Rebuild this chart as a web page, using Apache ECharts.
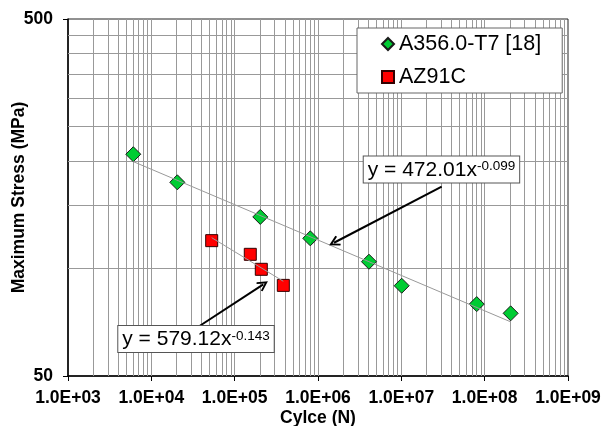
<!DOCTYPE html>
<html lang="en">
<head>
<meta charset="UTF-8">
<title>S-N curve</title>
<script src="https://cdn.jsdelivr.net/npm/echarts@6/dist/echarts.min.js"></script>
</head>
<body style="margin:0">
<div id="main" style="width:602px;height:426px;"></div>
<script>
// A356.0-T7 [18]
var a356Cycles = [6075, 20500, 203000, 808000, 4090000, 10100000, 80300000, 205000000];
var a356Stress = [209, 174.4, 139.5, 121.5, 104.5, 89.5, 79.5, 74.9];
// AZ91C
var az91Cycles = [53000, 154000, 208800, 383500];
var az91Stress = [119.7, 109.6, 99.5, 89.7];
// trend line end points
var a356TrendCycles = [6075, 205000000];
var a356TrendStress = [199.3, 70.9];
var az91TrendCycles = [53000, 383500];
var az91TrendStress = [122.0, 92.1];

var xTicks = [1e3, 1e4, 1e5, 1e6, 1e7, 1e8, 1e9];
var yTicks = [50, 500];
var yGrid = [100, 150, 200, 250, 300, 350, 400, 450];
var decadeSteps = [1, 2, 3, 4, 5, 6, 7, 8, 9];

function pairs(xs, ys) {
	var out = [];
	for (var i = 0; i < xs.length; i++) out.push([xs[i], ys[i]]);
	return out;
}

var gridLines = [];
for (var d = 0; d < xTicks.length - 1; d++) {
	for (var k = 0; k < decadeSteps.length; k++) {
		if (d == 0 && k == 0) continue;
		gridLines.push({ xAxis: xTicks[d] * decadeSteps[k] });
	}
}
for (var j = 0; j < yGrid.length; j++) gridLines.push({ yAxis: yGrid[j] });

var font = "'Liberation Sans', Arial, sans-serif";
var arrowHead = 'path://M5,0 L10,9 L8.6,10 L5,3.6 L1.4,10 L0,9 Z';

var myChart = echarts.init(document.getElementById('main'));
var option = {
	animation : false,
	grid : {
		left : 68, right : 34, top : 19, bottom : 50,
		outerBoundsMode : 'none',
		containLabel : false,
		show : true, borderColor : '#222', borderWidth : 1
	},
	legend : {
		orient : 'vertical',
		left : 357, top : 28,
		z : 10,
		padding : [5, 21, 5, 24],
		itemWidth : 12, itemHeight : 12, itemGap : 11,
		backgroundColor : '#fff',
		borderColor : '#666', borderWidth : 1,
		textStyle : { fontFamily : font, fontSize : 21.5, color : '#000' },
		data : ['A356.0-T7 [18]', 'AZ91C']
	},
	xAxis : {
		type : 'log', logBase : 10, min : 1e3, max : 1e9,
		name : 'Cylce (N)', nameLocation : 'middle', nameGap : 33,
		nameMoveOverlap : false,
		nameTextStyle : { fontFamily : font, fontWeight : 'bold', fontSize : 17.5, color : '#000' },
		axisLine : { lineStyle : { color : '#000', width : 1.5 } },
		axisTick : { customValues : xTicks, length : 5, lineStyle : { color : '#000' } },
		axisLabel : {
			customValues : xTicks, margin : 13,
			fontFamily : font, fontWeight : 'bold', fontSize : 17.5, color : '#000',
			formatter : function(v) {
				var e = Math.round(Math.log10(v));
				return '1.0E+' + (e < 10 ? '0' : '') + e;
			}
		},
		splitLine : { show : false }
	},
	yAxis : {
		type : 'log', logBase : 10, min : 50, max : 500,
		name : 'Maximum Stress (MPa)', nameLocation : 'middle', nameGap : 40,
		nameMoveOverlap : false,
		nameTextStyle : { fontFamily : font, fontWeight : 'bold', fontSize : 17.5, color : '#000' },
		axisLine : { lineStyle : { color : '#000', width : 1.5 } },
		axisTick : { customValues : yTicks, length : 5, lineStyle : { color : '#000' } },
		axisLabel : {
			customValues : yTicks, margin : 15,
			fontFamily : font, fontWeight : 'bold', fontSize : 17.5, color : '#000'
		},
		splitLine : { show : false }
	},
	series : [ {
		name : 'grid',
		type : 'line',
		data : [],
		z : 1,
		silent : true,
		markLine : {
			z : 1,
			silent : true, symbol : 'none', animation : false,
			label : { show : false },
			lineStyle : { color : '#999', width : 1, type : 'solid' },
			emphasis : { disabled : true },
			data : gridLines
		}
	}, {
		name : 'A356.0-T7 [18]',
		type : 'scatter',
		symbol : 'diamond', symbolSize : 15,
		itemStyle : { color : '#00CC33', borderColor : '#1a1a1a', borderWidth : 1, opacity : 1 },
		z : 3,
		data : pairs(a356Cycles, a356Stress)
	}, {
		name : 'AZ91C',
		type : 'scatter',
		symbol : 'rect', symbolSize : 12,
		itemStyle : { color : '#FF0000', borderColor : '#330000', borderWidth : 1, opacity : 1 },
		z : 3,
		data : pairs(az91Cycles, az91Stress)
	}, {
		name : 'a356 trend',
		type : 'line', showSymbol : false, symbol : 'none',
		lineStyle : { color : '#999', width : 1 },
		z : 4,
		data : pairs(a356TrendCycles, a356TrendStress),
		markPoint : {
			z : 6,
			symbol : 'rect', symbolSize : 1, itemStyle : { color : 'rgba(0,0,0,0)' },
			label : {
				show : true, position : 'inside',
				backgroundColor : '#fff', borderColor : '#555', borderWidth : 1,
				padding : [3, 4, 2, 4],
				formatter : '{a|y = 472.01x}{b|-0.099}',
				rich : {
					a : { fontFamily : font, fontSize : 21, color : '#000' },
					b : { fontFamily : font, fontSize : 13.5, color : '#000', verticalAlign : 'top' }
				}
			},
			data : [ { coord : [3.03e7, 189.4] } ]
		},
		markLine : {
			z : 5,
			silent : true, symbol : ['none', arrowHead], symbolSize : 11,
			label : { show : false },
			lineStyle : { color : '#000', width : 2, type : 'solid' },
			data : [ [ { coord : [3.05e7, 169.6] }, { coord : [1.556e6, 118.1] } ] ]
		}
	}, {
		name : 'az91 trend',
		type : 'line', showSymbol : false, symbol : 'none',
		lineStyle : { color : '#999', width : 1 },
		z : 4,
		data : pairs(az91TrendCycles, az91TrendStress),
		markPoint : {
			z : 6,
			symbol : 'rect', symbolSize : 1, itemStyle : { color : 'rgba(0,0,0,0)' },
			label : {
				show : true, position : 'inside',
				backgroundColor : '#fff', borderColor : '#555', borderWidth : 1,
				padding : [3, 4, 2, 4],
				formatter : '{a|y = 579.12x}{b|-0.143}',
				rich : {
					a : { fontFamily : font, fontSize : 21, color : '#000' },
					b : { fontFamily : font, fontSize : 13.5, color : '#000', verticalAlign : 'top' }
				}
			},
			data : [ { coord : [34360, 63.5] } ]
		},
		markLine : {
			z : 5,
			silent : true, symbol : ['none', arrowHead], symbolSize : 11,
			label : { show : false },
			lineStyle : { color : '#000', width : 2, type : 'solid' },
			data : [ [ { coord : [36300, 68.6] }, { coord : [220700, 90.3] } ] ]
		}
	} ]
};
myChart.setOption(option);
</script>
</body>
</html>
